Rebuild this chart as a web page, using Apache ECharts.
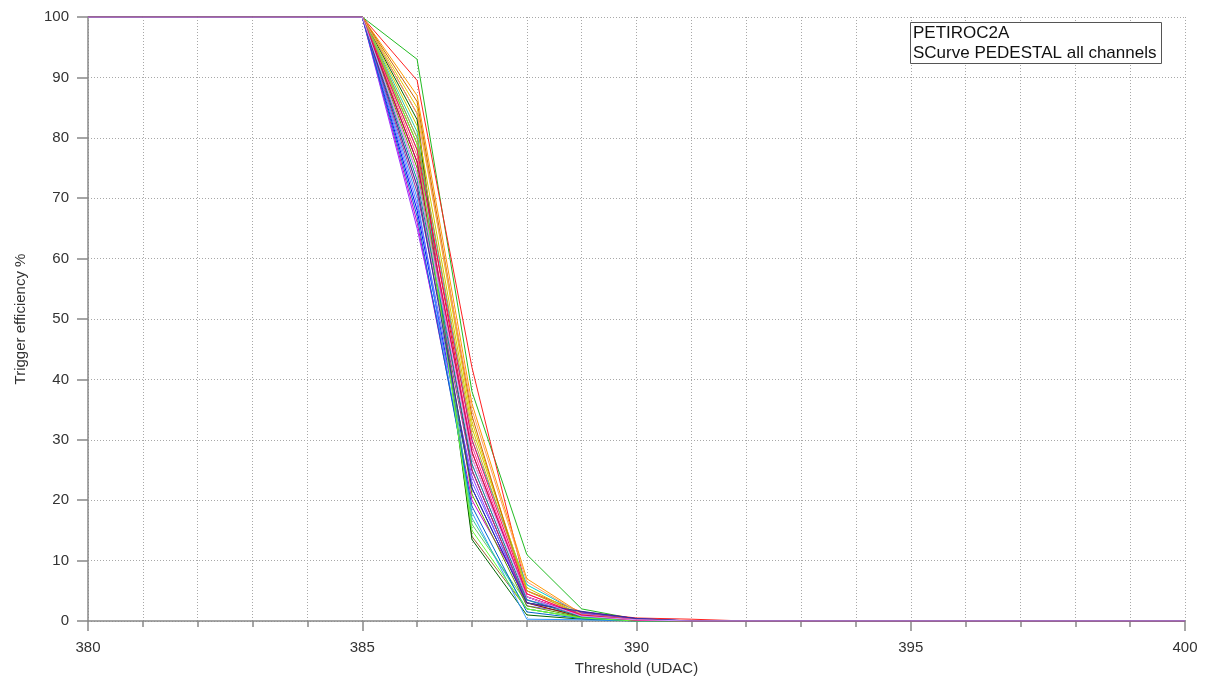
<!DOCTYPE html>
<html>
<head>
<meta charset="utf-8">
<script src="https://cdn.jsdelivr.net/npm/echarts@6/dist/echarts.min.js"></script>
<style>
html,body{margin:0;padding:0;background:#fff;}
#chart{width:1205px;height:682px;}
</style>
</head>
<body>
<div id="chart"></div>
<script>
// Threshold (UDAC) values
const thresholds = [380,381,382,383,384,385,386,387,388,389,390,391,392,393,394,395,396,397,398,399,400];

// Trigger efficiency (%) per channel, one value per threshold
const ch00 = [100,100,100,100,100,100,93,38,11,2,0.3,0,0,0,0,0,0,0,0,0,0];
const ch01 = [100,100,100,100,100,100,89.5,42,5,1.5,0.5,0.3,0,0,0,0,0,0,0,0,0];
const ch02 = [100,100,100,100,100,100,87,36,7,1.2,0.3,0,0,0,0,0,0,0,0,0,0];
const ch03 = [100,100,100,100,100,100,85,33,5,1,0.2,0,0,0,0,0,0,0,0,0,0];
const ch04 = [100,100,100,100,100,100,68,22,3,1.5,0.4,0,0,0,0,0,0,0,0,0,0];
const ch05 = [100,100,100,100,100,100,66,20,4,1,0.2,0,0,0,0,0,0,0,0,0,0];
const ch06 = [100,100,100,100,100,100,80,30,6,1.2,0.2,0,0,0,0,0,0,0,0,0,0];
const ch07 = [100,100,100,100,100,100,84,14,2,0.5,0,0,0,0,0,0,0,0,0,0,0];
const ch08 = [100,100,100,100,100,100,65,24,2.5,1.2,0.3,0,0,0,0,0,0,0,0,0,0];
const ch09 = [100,100,100,100,100,100,72,26,3.5,0.8,0.2,0,0,0,0,0,0,0,0,0,0];
const ch10 = [100,100,100,100,100,100,83,13.5,1,0.3,0,0,0,0,0,0,0,0,0,0,0];
const ch11 = [100,100,100,100,100,100,79,28,4,0.8,0.1,0,0,0,0,0,0,0,0,0,0];
const ch12 = [100,100,100,100,100,100,78,16,3,0.6,0,0,0,0,0,0,0,0,0,0,0];
const ch13 = [100,100,100,100,100,100,77,27,4.5,1,0.2,0,0,0,0,0,0,0,0,0,0];
const ch14 = [100,100,100,100,100,100,70,18,0.3,0.2,0,0,0,0,0,0,0,0,0,0,0];
const ch15 = [100,100,100,100,100,100,82,32,5.5,1,0.1,0,0,0,0,0,0,0,0,0,0];
const ch16 = [100,100,100,100,100,100,76,25,3,0.7,0.1,0,0,0,0,0,0,0,0,0,0];
const ch17 = [100,100,100,100,100,100,81,17,2,0.5,0,0,0,0,0,0,0,0,0,0,0];
const ch18 = [100,100,100,100,100,100,86,34,4,0.8,0.1,0,0,0,0,0,0,0,0,0,0];
const ch19 = [100,100,100,100,100,100,69,23,3.5,1.3,0.3,0,0,0,0,0,0,0,0,0,0];
const ch20 = [100,100,100,100,100,100,74,29,4,0.9,0.2,0,0,0,0,0,0,0,0,0,0];
const ch21 = [100,100,100,100,100,100,75,21,2.5,0.6,0,0,0,0,0,0,0,0,0,0,0];
const ch22 = [100,100,100,100,100,100,67,19,1.5,0.4,0,0,0,0,0,0,0,0,0,0,0];
const ch23 = [100,100,100,100,100,100,80,31,5,1,0.2,0,0,0,0,0,0,0,0,0,0];
const ch24 = [100,100,100,100,100,100,71,25,3,1.4,0.3,0,0,0,0,0,0,0,0,0,0];
const ch25 = [100,100,100,100,100,100,84,35,6.5,1.1,0.2,0,0,0,0,0,0,0,0,0,0];
const ch26 = [100,100,100,100,100,100,73,26,3.5,0.7,0.1,0,0,0,0,0,0,0,0,0,0];
const ch27 = [100,100,100,100,100,100,76,28,4,1,0.2,0,0,0,0,0,0,0,0,0,0];
const ch28 = [100,100,100,100,100,100,79,15,2,0.5,0,0,0,0,0,0,0,0,0,0,0];
const ch29 = [100,100,100,100,100,100,78,30,4.5,0.9,0.1,0,0,0,0,0,0,0,0,0,0];
const ch30 = [100,100,100,100,100,100,72,22,3,1.6,0.4,0,0,0,0,0,0,0,0,0,0];
const ch31 = [100,100,100,100,100,100,74,27,4,0.8,0.2,0,0,0,0,0,0,0,0,0,0];

const channels = [ch00,ch01,ch02,ch03,ch04,ch05,ch06,ch07,ch08,ch09,ch10,ch11,ch12,ch13,ch14,ch15,
                  ch16,ch17,ch18,ch19,ch20,ch21,ch22,ch23,ch24,ch25,ch26,ch27,ch28,ch29,ch30,ch31];

const colors = ['#22bb22','#ff2020','#ff9900','#e6c800','#0000ff','#cc00cc','#00cccc','#996633',
                '#9933ff','#ff66cc','#006600','#cc3300','#66cc66','#ff6666','#3399ff','#cccc00',
                '#990000','#33cc99','#cc6600','#6666ff','#ff3399','#669900','#0066cc','#cc9933',
                '#993399','#ff9966','#009999','#cc0066','#66ff33','#ff0066','#333399','#cc99ff'];

const titleLines = ['PETIROC2A','SCurve PEDESTAL all channels'];

const FONT = '"Liberation Sans", Arial, sans-serif';
const chart = echarts.init(document.getElementById('chart'));

const series = channels.map((vals, i) => ({
  name: 'ch' + i,
  type: 'line',
  data: thresholds.map((t, k) => [t, vals[k]]),
  showSymbol: false,
  symbol: 'none',
  silent: true,
  lineStyle: { width: 1, color: colors[i] },
  itemStyle: { color: colors[i] },
  z: 3
}));

const gridLineStyle = { color: '#a8a8a8', type: [1, 2], width: 1 };

chart.setOption({
  animation: false,
  backgroundColor: '#fff',
  title: {
    text: titleLines.join('\n'),
    left: 910,
    top: 22,
    padding: [1, 5, 1, 3],
    borderColor: '#555',
    borderWidth: 1,
    backgroundColor: '#fff',
    textStyle: { fontFamily: FONT, fontSize: 17, fontWeight: 'normal', color: '#111', lineHeight: 20 }
  },
  grid: { left: 88, right: 20, top: 17, bottom: 61, containLabel: false },
  xAxis: {
    type: 'value',
    min: 380, max: 400, interval: 5,
    name: 'Threshold (UDAC)',
    nameLocation: 'middle',
    nameGap: 40,
    nameTextStyle: { fontFamily: FONT, fontSize: 15, color: '#333' },
    axisLine: { show: true, onZero: false, lineStyle: { color: '#888', width: 1.5 } },
    axisTick: { show: true, length: 10, lineStyle: { color: '#888', width: 1.5 } },
    minorTick: { show: true, splitNumber: 5, length: 6, lineStyle: { color: '#888', width: 1.5 } },
    axisLabel: { fontFamily: FONT, fontSize: 15, color: '#333', margin: 19 },
    splitLine: { show: true, lineStyle: gridLineStyle },
    minorSplitLine: { show: true, lineStyle: gridLineStyle }
  },
  yAxis: {
    type: 'value',
    min: 0, max: 100, interval: 10,
    name: 'Trigger efficiency %',
    nameLocation: 'middle',
    nameGap: 60,
    nameTextStyle: { fontFamily: FONT, fontSize: 15, color: '#333' },
    axisLine: { show: true, lineStyle: { color: '#888', width: 1.5 } },
    axisTick: { show: true, length: 11, lineStyle: { color: '#888', width: 1.5 } },
    axisLabel: { fontFamily: FONT, fontSize: 15, color: '#333', margin: 19 },
    splitLine: { show: true, lineStyle: gridLineStyle }
  },
  series: series
});
</script>
</body>
</html>
